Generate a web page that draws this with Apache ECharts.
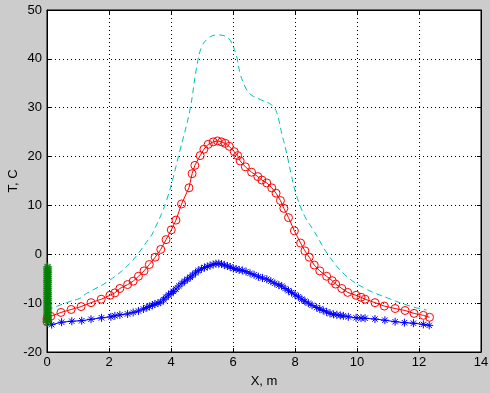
<!DOCTYPE html>
<html>
<head>
<meta charset="utf-8">
<script src="https://cdn.jsdelivr.net/npm/echarts@6/dist/echarts.min.js"></script>
<style>
html,body{margin:0;padding:0;background:#cccccc;}
#c{width:490px;height:393px;}
</style>
</head>
<body>
<div id="c"></div>
<script>
// Red circles series (x, T)
var redData = [
  [0,-13.8],[0,-13.2],[0.12,-12.7],[0.45,-11.9],[0.78,-11.3],[1.1,-10.7],[1.42,-9.9],[1.75,-9.2],
  [2.03,-8.4],[2.19,-7.9],[2.35,-7.0],[2.6,-6.2],[2.78,-5.5],[2.95,-4.5],[3.13,-3.4],
  [3.3,-2.1],[3.49,-0.6],[3.67,1.0],[3.84,3.0],[4.01,5.0],[4.16,7.0],[4.34,10.3],
  [4.58,13.6],[4.68,16.5],[4.77,18.2],[4.94,20.2],[5.06,21.5],[5.2,22.5],[5.36,23.0],
  [5.5,23.2],[5.63,23.0],[5.75,22.7],[5.88,22.1],[6.04,21.0],[6.15,20.2],[6.23,19.1],
  [6.4,17.9],[6.6,16.8],[6.8,15.9],[6.93,15.2],[7.09,14.6],[7.25,13.6],[7.39,12.5],
  [7.53,11.0],[7.64,9.4],[7.79,7.5],[7.98,4.8],[8.18,2.3],[8.32,0.7],[8.46,-0.6],
  [8.62,-2.2],[8.8,-3.4],[9.02,-4.5],[9.2,-5.4],[9.31,-6.1],[9.51,-7.0],[9.7,-7.8],
  [9.97,-8.4],[10.13,-8.8],[10.26,-9.2],[10.58,-9.9],[10.88,-10.6],[11.23,-11.1],
  [11.55,-11.5],[11.84,-12.1],[12.14,-12.5],[12.34,-12.9]
];
// Blue stars series
var blueData = [
  [0.15,-14.4],[0.47,-13.9],[0.8,-13.7],[1.12,-13.6],[1.42,-13.3],[1.76,-13.0],[2.06,-12.8],
  [2.19,-12.6],[2.35,-12.4],[2.6,-12.2],[2.78,-11.9],[2.95,-11.6],[3.11,-11.2],[3.22,-10.9],
  [3.3,-10.7],[3.4,-10.4],[3.48,-10.2],[3.58,-10.0],[3.67,-9.8],[3.76,-9.3],[3.84,-8.8],
  [3.92,-8.3],[4.0,-8.0],[4.08,-7.6],[4.16,-7.1],[4.25,-6.5],[4.35,-5.95],[4.44,-5.5],
  [4.53,-5.1],[4.62,-4.7],[4.7,-4.25],[4.79,-3.8],[4.88,-3.35],[4.98,-3.0],[5.08,-2.7],
  [5.17,-2.5],[5.26,-2.3],[5.36,-2.1],[5.45,-1.9],[5.54,-1.9],[5.63,-2.0],[5.72,-2.2],
  [5.82,-2.4],[5.91,-2.6],[6.01,-2.9],[6.1,-3.0],[6.2,-3.2],[6.3,-3.3],[6.42,-3.55],
  [6.55,-3.9],[6.68,-4.2],[6.82,-4.6],[6.95,-4.85],[7.09,-5.1],[7.22,-5.5],[7.35,-5.95],
  [7.48,-6.3],[7.57,-6.5],[7.68,-7.0],[7.79,-7.45],[7.89,-7.85],[8.0,-8.3],[8.11,-8.7],
  [8.22,-9.2],[8.32,-9.6],[8.43,-10.0],[8.55,-10.45],[8.7,-10.9],[8.8,-11.2],[8.91,-11.5],
  [9.02,-11.8],[9.13,-12.1],[9.24,-12.3],[9.35,-12.4],[9.46,-12.5],[9.56,-12.6],[9.72,-12.8],
  [9.97,-13.0],[10.13,-13.05],[10.26,-13.1],[10.58,-13.25],[10.9,-13.5],[11.23,-13.8],
  [11.53,-14.0],[11.82,-14.1],[12.14,-14.35],[12.33,-14.55]
];
// Cyan dashed line
var cyanData = [
  [0,-11.4],[0.15,-11.05],[0.63,-9.9],[1.06,-9.0],[1.28,-8.0],[1.98,-5.5],[2.68,-1.8],
  [3.27,3.0],[3.43,4.6],[3.86,11.1],[4.29,21.3],[4.61,29.5],[4.83,38.4],[4.99,42.5],
  [5.2,44.2],[5.47,44.9],[5.8,44.5],[5.96,43.2],[6.12,40.4],[6.23,37.0],[6.39,34.3],
  [6.55,32.8],[6.87,31.7],[7.25,30.55],[7.41,29.0],[7.57,24.8],[7.73,20.7],[7.89,16.0],
  [8.05,12.0],[8.32,7.7],[8.59,5.0],[9.07,-0.1],[9.61,-4.2],[10.26,-7.0],[11.01,-9.0],
  [11.76,-10.7],[12.25,-11.4]
];
// Green stars at x = 0
var greenX = 0.02;
var greenY = [-2.6,-3.0,-3.4,-3.8,-4.2,-4.6,-5.0,-5.4,-5.8,-6.2,-6.6,-7.0,-7.4,-7.8,-8.2,
  -8.6,-9.0,-9.4,-9.8,-10.2,-10.6,-11.0,-11.4,-11.8,-12.2,-12.6,-13.0,-13.4,-13.9];
var xTicks = [0,2,4,6,8,10,12,14];
var yTicks = [-20,-10,0,10,20,30,40,50];

var greenData = greenY.map(function(v){return [greenX, v];});
var star = 'path://M5,0L5,10M0,5L10,5M1.6,1.6L8.4,8.4M1.6,8.4L8.4,1.6';
var font = 'Liberation Sans, Arial, sans-serif';

var chart = echarts.init(document.getElementById('c'), null, {renderer:'canvas'});
function axisCommon(show){
  return {
    axisLine:{show:true, onZero:false, lineStyle:{color:'#000', width:1}},
    axisTick:{show:true, inside:true, length:4, lineStyle:{color:'#000'}},
    axisLabel:{show:show, color:'#000', fontFamily:font, fontSize:13},
    splitLine:{show:false}
  };
}
var xa0 = Object.assign(axisCommon(true), {type:'value', min:xTicks[0], max:xTicks[xTicks.length-1], interval:2, position:'bottom',
  name:'X, m', nameLocation:'middle', nameGap:23, nameMoveOverlap:false,
  nameTextStyle:{color:'#000', fontFamily:font, fontSize:13},
  axisLabel:{color:'#000', fontFamily:font, fontSize:13, margin:4},
  splitLine:{show:true, lineStyle:{color:'#000', type:[1,3], width:1}}});
var xa1 = Object.assign(axisCommon(false), {type:'value', min:xTicks[0], max:xTicks[xTicks.length-1], interval:2, position:'top'});
var ya0 = Object.assign(axisCommon(true), {type:'value', min:yTicks[0], max:yTicks[yTicks.length-1], interval:10, position:'left',
  name:'T, C', nameLocation:'middle', nameGap:27, nameMoveOverlap:false,
  nameTextStyle:{color:'#000', fontFamily:font, fontSize:13},
  axisLabel:{color:'#000', fontFamily:font, fontSize:13, margin:5},
  splitLine:{show:true, lineStyle:{color:'#000', type:[1,3], width:1}}});
var ya1 = Object.assign(axisCommon(false), {type:'value', min:yTicks[0], max:yTicks[yTicks.length-1], interval:10, position:'right'});

chart.setOption({
  animation:false,
  backgroundColor:'#cccccc',
  grid:{left:47, right:9, top:10, bottom:41, containLabel:false, outerBoundsMode:'none',
        show:true, backgroundColor:'#ffffff', borderColor:'#000', borderWidth:1},
  xAxis:[xa0, xa1],
  yAxis:[ya0, ya1],
  series:[
    {type:'line', data:cyanData, smooth:0.4, showSymbol:false, symbol:'none',
     lineStyle:{color:'#00bfbf', width:1, type:[6,4]}, z:2},
    {type:'line', data:redData, symbol:'circle', symbolSize:8, showAllSymbol:true,
     lineStyle:{color:'#ff0000', width:1},
     itemStyle:{color:'rgba(0,0,0,0)', borderColor:'#ff0000', borderWidth:1}, z:3},
    {type:'line', data:blueData, symbol:star, symbolSize:8, showAllSymbol:true,
     lineStyle:{color:'#0000ff', width:1},
     itemStyle:{color:'#0000ff', borderColor:'#0000ff', borderWidth:1}, z:4},
    {type:'scatter', data:greenData, symbol:star, symbolSize:9,
     itemStyle:{color:'#008000', borderColor:'#008000', borderWidth:1.5}, z:5}
  ]
});
</script>
</body>
</html>
